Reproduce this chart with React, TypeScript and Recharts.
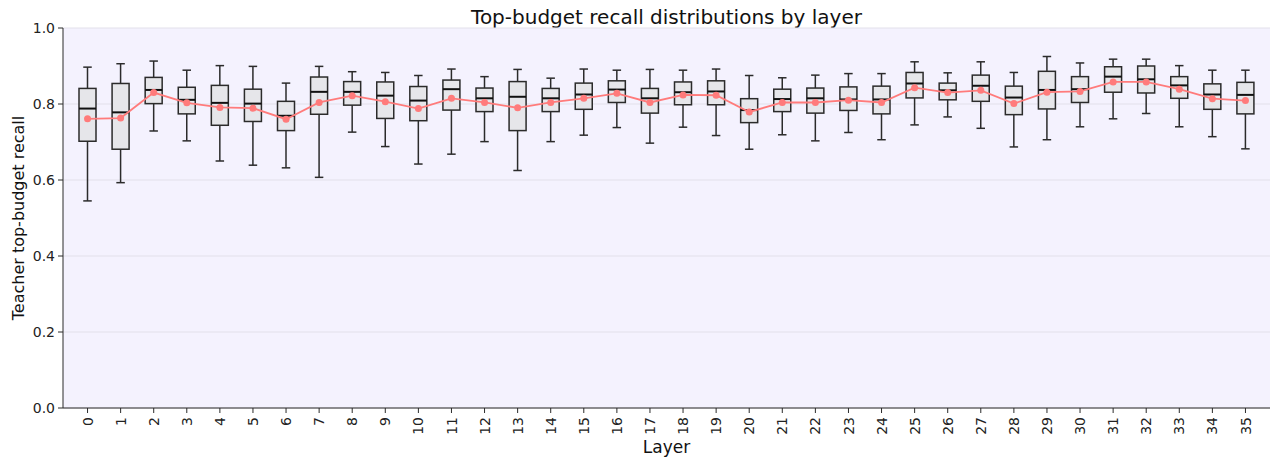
import { Bar, CartesianGrid, ComposedChart, Line, XAxis, YAxis } from "recharts";

const layers = [
	"0", "1", "2", "3", "4", "5", "6", "7", "8", "9", "10", "11",
	"12", "13", "14", "15", "16", "17", "18", "19", "20", "21", "22", "23",
	"24", "25", "26", "27", "28", "29", "30", "31", "32", "33", "34", "35",
];
const whiskerHigh = [
	0.897, 0.906, 0.913, 0.889, 0.901, 0.899, 0.855, 0.899, 0.885, 0.883, 0.875, 0.892,
	0.872, 0.891, 0.868, 0.892, 0.889, 0.891, 0.889, 0.892, 0.875, 0.869, 0.876, 0.88,
	0.88, 0.911, 0.882, 0.911, 0.883, 0.925, 0.908, 0.918, 0.918, 0.901, 0.889, 0.889,
];
const q3 = [
	0.841, 0.854, 0.87, 0.844, 0.849, 0.839, 0.807, 0.871, 0.859, 0.858, 0.846, 0.863,
	0.842, 0.859, 0.841, 0.855, 0.861, 0.841, 0.858, 0.861, 0.814, 0.839, 0.842, 0.845,
	0.847, 0.883, 0.855, 0.876, 0.847, 0.886, 0.872, 0.898, 0.9, 0.872, 0.853, 0.857,
];
const median = [
	0.788, 0.778, 0.837, 0.811, 0.803, 0.801, 0.769, 0.832, 0.832, 0.822, 0.809, 0.839,
	0.815, 0.819, 0.815, 0.825, 0.838, 0.815, 0.831, 0.833, 0.784, 0.813, 0.815, 0.812,
	0.812, 0.854, 0.836, 0.848, 0.817, 0.837, 0.839, 0.872, 0.865, 0.849, 0.825, 0.824,
];
const mean = [
	0.761, 0.763, 0.83, 0.803, 0.791, 0.789, 0.76, 0.804, 0.822, 0.806, 0.788, 0.815,
	0.804, 0.79, 0.804, 0.815, 0.828, 0.804, 0.824, 0.823, 0.779, 0.804, 0.804, 0.81,
	0.804, 0.843, 0.83, 0.836, 0.801, 0.831, 0.833, 0.858, 0.858, 0.839, 0.814, 0.809,
];
const q1 = [
	0.702, 0.681, 0.801, 0.774, 0.744, 0.754, 0.73, 0.773, 0.797, 0.762, 0.756, 0.784,
	0.78, 0.73, 0.78, 0.786, 0.804, 0.776, 0.798, 0.798, 0.751, 0.78, 0.776, 0.783,
	0.774, 0.816, 0.811, 0.807, 0.772, 0.787, 0.804, 0.831, 0.829, 0.815, 0.786, 0.774,
];
const whiskerLow = [
	0.545, 0.593, 0.729, 0.703, 0.65, 0.639, 0.632, 0.607, 0.726, 0.688, 0.642, 0.668,
	0.701, 0.625, 0.701, 0.718, 0.738, 0.697, 0.739, 0.717, 0.681, 0.719, 0.703, 0.725,
	0.706, 0.745, 0.766, 0.736, 0.687, 0.706, 0.74, 0.761, 0.775, 0.74, 0.714, 0.682,
];
const yTicks = [0, 0.2, 0.4, 0.6, 0.8, 1.0];

const data = layers.map((layer, i) => ({
	layer,
	low: whiskerLow[i],
	q1: q1[i],
	median: median[i],
	q3: q3[i],
	high: whiskerHigh[i],
	mean: mean[i],
}));

const FONT = "'DejaVu Sans', sans-serif";
const EDGE = "#2b2b2b";

// box drawn inside the [low, high] range bar; inner values mapped linearly on the bar's pixels
function BoxShape(props: any) {
	const { x, y, width, height, payload } = props;
	if (payload == null || !isFinite(y)) return null;
	const top = Math.min(y, y + height);
	const h = Math.abs(height);
	const span = payload.high - payload.low;
	const py = (v: number) => top + ((payload.high - v) / span) * h;
	const cx = x + width / 2;
	const cap = width / 4;
	return (
		<g>
			<line x1={cx} x2={cx} y1={top} y2={top + h} stroke={EDGE} strokeWidth={1.5} />
			<line x1={cx - cap} x2={cx + cap} y1={top} y2={top} stroke={EDGE} strokeWidth={1.5} />
			<line x1={cx - cap} x2={cx + cap} y1={top + h} y2={top + h} stroke={EDGE} strokeWidth={1.5} />
			<rect
				x={x}
				y={py(payload.q3)}
				width={width}
				height={py(payload.q1) - py(payload.q3)}
				fill="#e6e6ea"
				stroke={EDGE}
				strokeWidth={1.5}
			/>
			<line x1={x} x2={x + width} y1={py(payload.median)} y2={py(payload.median)} stroke="#111" strokeWidth={2} />
		</g>
	);
}

function LayerTick(props: any) {
	const { x, y, payload } = props;
	return (
		<g transform={`translate(${x},${y})`}>
			<text
				transform="rotate(-90)"
				textAnchor="end"
				dy="0.36em"
				x={-2}
				fontSize={14}
				fill="#222"
				fontFamily={FONT}
			>
				{payload.value}
			</text>
		</g>
	);
}

function YLabel(props: any) {
	const { viewBox } = props;
	const cy = viewBox.y + viewBox.height / 2;
	const cx = 18;
	return (
		<text
			x={cx}
			y={cy}
			transform={`rotate(-90, ${cx}, ${cy})`}
			textAnchor="middle"
			dominantBaseline="central"
			fontSize={16}
			fill="#111"
			fontFamily={FONT}
		>
			Teacher top-budget recall
		</text>
	);
}

export default function App() {
	return (
		<div style={{ position: "absolute", left: 0, top: 0, width: 1276, height: 460, fontFamily: FONT }}>
			<div
				style={{
					position: "absolute",
					left: 63,
					width: 1207,
					top: 5,
					textAlign: "center",
					fontSize: 20,
					lineHeight: "24px",
					color: "#111",
				}}
			>
				Top-budget recall distributions by layer
			</div>
			<ComposedChart
				width={1276}
				height={460}
				data={data}
				margin={{ top: 28, right: 6, bottom: 0, left: 0 }}
			>
				<CartesianGrid vertical={false} fill="#f4f2fe" stroke="#e2e0ea" strokeWidth={1} />
				<XAxis
					dataKey="layer"
					height={52}
					padding={{ left: 8, right: 8 }}
					interval={0}
					tick={<LayerTick />}
					tickSize={5}
					tickMargin={2}
					stroke={EDGE}
					tickLine={{ stroke: EDGE }}
					label={{ value: "Layer", position: "insideBottom", offset: 7, fontSize: 17, fill: "#111", fontFamily: FONT }}
				/>
				<XAxis xAxisId="top" dataKey="layer" orientation="top" height={0} tick={false} tickLine={false} stroke={EDGE} />
				<YAxis
					domain={[0, 1]}
					ticks={yTicks}
					width={63}
					tickFormatter={(v: number) => v.toFixed(1)}
					tick={{ fontSize: 14, fill: "#222", fontFamily: FONT }}
					tickSize={5}
					tickMargin={3}
					stroke={EDGE}
					label={<YLabel />}
				/>
				<YAxis yAxisId="right" orientation="right" width={0} domain={[0, 1]} tick={false} tickLine={false} stroke={EDGE} />
				<Bar
					dataKey={(d: any) => [d.low, d.high]}
					barSize={17}
					shape={<BoxShape />}
					isAnimationActive={false}
				/>
				<Line
					dataKey="mean"
					stroke="#ff7b7b"
					strokeWidth={1.8}
					dot={{ r: 3.5, fill: "#ff7b7b", stroke: "#ff7b7b", strokeWidth: 0 }}
					activeDot={false}
					isAnimationActive={false}
				/>
			</ComposedChart>
		</div>
	);
}
